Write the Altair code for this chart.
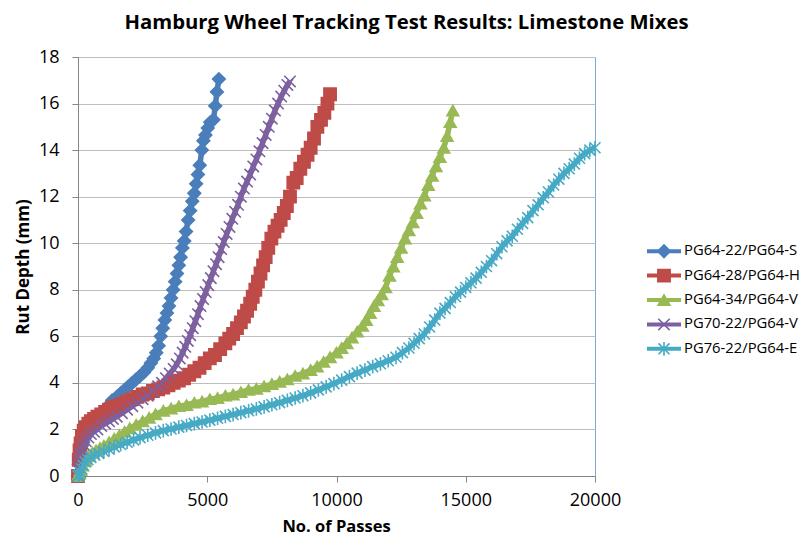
import altair as alt
import pandas as pd

# ---------------- data ----------------
series_names = ["PG64-22/PG64-S", "PG64-28/PG64-H", "PG64-34/PG64-V",
                "PG70-22/PG64-V", "PG76-22/PG64-E"]
series_colors = ["#4A7EBB", "#BE4B48", "#98B954", "#7D60A0", "#46AAC5"]

s1_passes = [0, 30, 60, 100, 150, 200, 280, 360, 450, 550, 650, 750, 850, 1000, 1150,
             1320, 1500, 1650, 1800, 1950, 2100, 2250, 2400, 2550, 2700, 2820, 2930,
             3030, 3120, 3200, 3280, 3360, 3440, 3520, 3600, 3680, 3760, 3830, 3900,
             3970, 4040, 4110, 4180, 4260, 4340, 4420, 4500, 4570, 4640, 4710, 4790,
             4850, 4930, 5020, 5120, 5240, 5310, 5375, 5450]
s1_depth = [0, 0.5, 0.8, 1.05, 1.3, 1.45, 1.65, 1.8, 1.95, 2.1, 2.3, 2.45, 2.6, 2.8, 3.0,
            3.25, 3.4, 3.55, 3.7, 3.85, 4.0, 4.15, 4.3, 4.45, 4.65, 4.85, 5.05,
            5.3, 5.6, 6.0, 6.35, 6.7, 7.0, 7.3, 7.65, 8.0, 8.35, 8.7, 9.05,
            9.4, 9.8, 10.1, 10.5, 11.0, 11.4, 11.8, 12.15, 12.55, 12.95, 13.35, 14.0,
            14.4, 14.65, 14.95, 15.2, 15.3, 15.9, 16.5, 17.05]

s2_passes = [0, 30, 60, 100, 150, 220, 300, 400, 500, 620, 750, 900, 1050, 1200, 1350,
             1500, 1700, 1900, 2100, 2300, 2500, 2700, 2900, 3100, 3300, 3500, 3700,
             3900, 4100, 4300, 4500, 4700, 4900, 5100, 5300, 5500, 5700, 5850, 6000,
             6150, 6300, 6420, 6540, 6660, 6760, 6860, 6960, 7060, 7160, 7260, 7360,
             7480, 7600, 7720, 7840, 7960, 8080, 8200, 8330, 8460, 8600, 8740, 8880,
             9000, 9130, 9260, 9400, 9530, 9650, 9750]
s2_depth = [0, 0.7, 1.1, 1.4, 1.7, 1.95, 2.1, 2.25, 2.35, 2.45, 2.55, 2.65, 2.75, 2.85, 2.95,
            3.0, 3.1, 3.2, 3.3, 3.4, 3.5, 3.55, 3.65, 3.72, 3.8, 3.9, 4.0,
            4.1, 4.2, 4.35, 4.5, 4.65, 4.85, 5.05, 5.2, 5.45, 5.7, 5.9, 6.1,
            6.35, 6.6, 6.85, 7.1, 7.4, 7.7, 8.0, 8.35, 8.7, 9.05, 9.4, 9.8,
            10.2, 10.5, 10.75, 11.0, 11.3, 11.6, 12.0, 12.6, 12.8, 13.2, 13.5, 13.8,
            14.1, 14.5, 15.0, 15.3, 15.6, 16.0, 16.4]

s3_passes = [0, 50, 100, 180, 280, 400, 550, 700, 850, 1000, 1200, 1400, 1600, 1800, 2000,
             2250, 2500, 2750, 3000, 3300, 3600, 3900, 4200, 4500, 4800, 5100, 5400,
             5700, 6000, 6300, 6600, 6900, 7200, 7500, 7800, 8100, 8400, 8700, 9000,
             9250, 9500, 9750, 10000, 10200, 10400, 10600, 10800, 11000, 11150, 11300,
             11450, 11600, 11750, 11900, 12050, 12200, 12350, 12500, 12650, 12800,
             12950, 13100, 13250, 13400, 13550, 13700, 13850, 14000, 14150, 14280,
             14400, 14500]
s3_depth = [0, 0.1, 0.25, 0.45, 0.65, 0.85, 1.0, 1.1, 1.2, 1.3, 1.45, 1.6, 1.75, 1.9, 2.05,
            2.2, 2.35, 2.5, 2.65, 2.8, 2.9, 3.0, 3.05, 3.15, 3.2, 3.3, 3.35,
            3.45, 3.5, 3.6, 3.7, 3.75, 3.85, 3.95, 4.05, 4.15, 4.3, 4.4, 4.55,
            4.7, 4.9, 5.1, 5.3, 5.5, 5.7, 5.95, 6.2, 6.45, 6.7, 7.0,
            7.3, 7.55, 7.8, 8.1, 8.6, 9.0, 9.4, 9.8, 10.2, 10.55,
            10.9, 11.3, 11.7, 12.05, 12.5, 12.9, 13.3, 13.7, 14.1, 14.6,
            15.2, 15.7]

s4_passes = [0, 30, 60, 100, 150, 220, 300, 400, 500, 620, 750, 900, 1050, 1200, 1350,
             1500, 1700, 1900, 2100, 2300, 2500, 2700, 2900, 3100, 3250, 3400, 3550,
             3700, 3820, 3940, 4050, 4150, 4250, 4340, 4440, 4540, 4640, 4740, 4840,
             4940, 5040, 5140, 5240, 5340, 5440, 5540, 5640, 5750, 5860, 5970, 6080,
             6190, 6300, 6420, 6540, 6660, 6780, 6900, 7020, 7140, 7260, 7380, 7500,
             7620, 7740, 7860, 7980, 8100, 8200]
s4_depth = [0, 0.4, 0.7, 0.95, 1.15, 1.35, 1.5, 1.65, 1.8, 1.9, 2.0, 2.15, 2.25, 2.35, 2.45,
            2.55, 2.7, 2.85, 3.0, 3.15, 3.3, 3.45, 3.65, 3.85, 4.0, 4.2, 4.4,
            4.6, 4.8, 5.05, 5.3, 5.55, 5.8, 6.05, 6.35, 6.65, 6.95, 7.3, 7.6,
            7.9, 8.2, 8.5, 8.8, 9.1, 9.4, 9.75, 10.05, 10.4, 10.7, 11.05, 11.35,
            11.65, 12.0, 12.35, 12.65, 12.95, 13.3, 13.6, 13.95, 14.3, 14.65, 15.0, 15.35,
            15.7, 16.0, 16.3, 16.55, 16.8, 16.95]

s5_passes = [0, 50, 100, 150, 200, 280, 380, 500, 650, 800, 1000, 1200, 1400, 1650, 1900,
             2150, 2400, 2700, 3000, 3300, 3600, 3900, 4200, 4500, 4800, 5100, 5400,
             5700, 6000, 6300, 6600, 6900, 7200, 7500, 7800, 8100, 8400, 8700, 9000,
             9300, 9600, 9900, 10200, 10500, 10800, 11100, 11400, 11700, 12000, 12300,
             12550, 12800, 13000, 13200, 13400, 13600, 13800, 14000, 14200, 14400,
             14600, 14800, 15000, 15200, 15400, 15600, 15800, 16000, 16200, 16400,
             16600, 16800, 17000, 17200, 17400, 17600, 17800, 18000, 18200, 18400,
             18600, 18800, 19000, 19200, 19400, 19600, 19800, 20000]
s5_depth = [0, 0.05, 0.15, 0.3, 0.45, 0.6, 0.7, 0.8, 0.9, 0.97, 1.05, 1.15, 1.25, 1.35, 1.45,
            1.55, 1.65, 1.75, 1.85, 1.95, 2.02, 2.1, 2.17, 2.25, 2.32, 2.4, 2.48,
            2.56, 2.64, 2.72, 2.8, 2.88, 2.97, 3.06, 3.15, 3.25, 3.35, 3.45, 3.57,
            3.7, 3.83, 3.97, 4.12, 4.27, 4.42, 4.55, 4.7, 4.82, 4.95, 5.1,
            5.3, 5.5, 5.7, 5.9, 6.1, 6.4, 6.7, 7.0, 7.2, 7.45,
            7.7, 7.9, 8.1, 8.3, 8.5, 8.75, 9.0, 9.25, 9.55, 9.85,
            10.1, 10.3, 10.6, 10.85, 11.1, 11.4, 11.65, 11.95, 12.2, 12.5,
            12.75, 13.0, 13.2, 13.4, 13.65, 13.85, 14.0, 14.1]

x_ticks = [0, 5000, 10000, 15000, 20000]
y_ticks = [0, 2, 4, 6, 8, 10, 12, 14, 16, 18]

# ---------------- tables ----------------
all_passes = [s1_passes, s2_passes, s3_passes, s4_passes, s5_passes]
all_depth = [s1_depth, s2_depth, s3_depth, s4_depth, s5_depth]
rows = []
for name, xs, ys in zip(series_names, all_passes, all_depth):
    for i, (xv, yv) in enumerate(zip(xs, ys)):
        rows.append({"series": name, "passes": xv, "depth": yv, "i": i})
df = pd.DataFrame(rows)
legend_df = pd.DataFrame({"series": series_names})

FONT = "Open Sans"
shapes = ["diamond", "square", "triangle-up",
          "M-1,-1L1,1M-1,1L1,-1",
          "M-1,-1L1,1M-1,1L1,-1M0,-1.25L0,1.25"]
sizes = [160, 120, 160, 110, 130]

color_scale = alt.Scale(domain=series_names, range=series_colors)
shape_scale = alt.Scale(domain=series_names, range=shapes)
size_scale = alt.Scale(domain=series_names, range=sizes)

x_enc = alt.X("passes:Q",
              scale=alt.Scale(domain=[0, 20000], nice=False, zero=False),
              axis=alt.Axis(values=x_ticks, format="d", grid=False, title="No. of Passes",
                            tickSize=6, labelPadding=9, labelFlush=False,
                            titleX=258, titleY=50, titleBaseline="middle",
                            titleFontSize=16.5))
y_enc = alt.Y("depth:Q",
              scale=alt.Scale(domain=[0, 18], nice=False),
              axis=alt.Axis(values=y_ticks, grid=True, title="Rut Depth (mm)",
                            tickSize=6, labelPadding=13, titleX=-55, titleY=209.5,
                            titleBaseline="middle"))

lines = alt.Chart(df).mark_line(strokeWidth=5.5).encode(
    x=x_enc, y=y_enc,
    color=alt.Color("series:N", scale=color_scale, legend=None),
    order="i:Q",
)
points = alt.Chart(df).mark_point(filled=True, opacity=1, strokeWidth=1.6).encode(
    x="passes:Q", y="depth:Q",
    fill=alt.Fill("series:N", scale=color_scale, legend=None),
    stroke=alt.Stroke("series:N", scale=color_scale, legend=None),
    shape=alt.Shape("series:N", scale=shape_scale, legend=None),
    size=alt.Size("series:N", scale=size_scale, legend=None),
)
data_layer = alt.layer(lines, points)

ly = alt.Y("series:N", scale=alt.Scale(domain=series_names, range=[182, 304], padding=0),
           axis=None)
leg_rule = alt.Chart(legend_df).mark_rule(strokeWidth=4).encode(
    x=alt.value(569), x2=alt.value(603), y=ly,
    color=alt.Color("series:N", scale=color_scale, legend=None))
leg_pt = alt.Chart(legend_df).mark_point(filled=True, opacity=1, strokeWidth=1.6).encode(
    x=alt.value(586), y=ly,
    fill=alt.Fill("series:N", scale=color_scale, legend=None),
    stroke=alt.Stroke("series:N", scale=color_scale, legend=None),
    shape=alt.Shape("series:N", scale=shape_scale, legend=None),
    size=alt.Size("series:N", scale=size_scale, legend=None))
leg_txt = alt.Chart(legend_df).mark_text(align="left", baseline="middle", font=FONT,
                                         fontSize=14.8, color="#000000").encode(
    x=alt.value(606), y=ly, text="series:N")
legend_layer = alt.layer(leg_rule, leg_pt, leg_txt)

chart = alt.layer(data_layer, legend_layer).resolve_scale(y="independent").properties(
    width=517, height=419,
    autosize=alt.AutoSizeParams(type="none"),
    padding={"left": 70, "top": 49, "right": 209, "bottom": 61},
    background="white",
    title=alt.TitleParams("Hamburg Wheel Tracking Test Results: Limestone Mixes",
                          font=FONT, fontSize=20.3, fontWeight="bold", anchor="middle",
                          dx=70, dy=-11, color="#000000"),
).configure_view(
    stroke="#7EA6D8", strokeWidth=1
).configure_axis(
    labelFont=FONT, labelFontSize=18, labelColor="#000000",
    titleFont=FONT, titleFontSize=17, titleFontWeight="bold", titleColor="#000000",
    domainColor="#868686", tickColor="#868686", gridColor="#BDBDBD",
    domainWidth=1, gridWidth=1,
)

chart.save("out.html", embed_options={"renderer": "svg", "actions": False})
